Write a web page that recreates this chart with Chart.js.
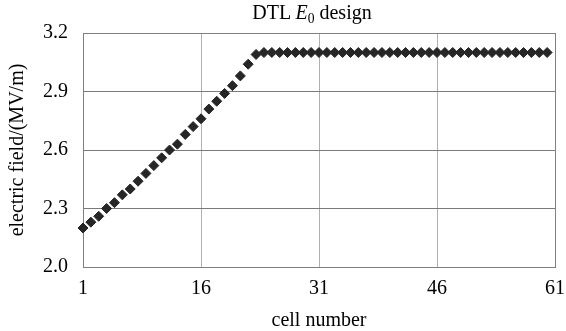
<!DOCTYPE html>
<html>
<head>
<meta charset="utf-8">
<script src="https://cdn.jsdelivr.net/npm/chart.js@4/dist/chart.umd.min.js"></script>
<style>
  html, body { margin: 0; padding: 0; background: #fff; overflow: hidden; }
  #wrap { position: relative; width: 566px; height: 331px; }
  #title {
    position: absolute; top: 2px; left: 312px; transform: translateX(-50%);
    white-space: nowrap; font-family: "Liberation Serif", serif; font-size: 20px;
    line-height: 20px; color: #000;
  }
  #title sub { font-size: 0.68em; vertical-align: -0.28em; line-height: 0; }
  canvas { display: block; }
</style>
</head>
<body>
<div id="wrap">
  <canvas id="c" width="566" height="331"></canvas>
  <div id="title">DTL <i>E</i><sub>0</sub> design</div>
</div>
<script>
const cells = [1,2,3,4,5,6,7,8,9,10,11,12,13,14,15,16,17,18,19,20,
  21,22,23,24,25,26,27,28,29,30,31,32,33,34,35,36,37,38,39,40,
  41,42,43,44,45,46,47,48,49,50,51,52,53,54,55,56,57,58,59,60];
const fieldValues = [2.20,2.23,2.26,2.30,2.33,2.37,2.40,2.44,2.48,2.52,
  2.56,2.60,2.63,2.68,2.72,2.76,2.81,2.85,2.89,2.93,
  2.98,3.04,3.09,3.10,3.10,3.10,3.10,3.10,3.10,3.10,
  3.10,3.10,3.10,3.10,3.10,3.10,3.10,3.10,3.10,3.10,
  3.10,3.10,3.10,3.10,3.10,3.10,3.10,3.10,3.10,3.10,
  3.10,3.10,3.10,3.10,3.10,3.10,3.10,3.10,3.10,3.10];
const xTicks = [1,16,31,46,61];
const yTicks = [2.0,2.3,2.6,2.9,3.2];
const xLabel = 'cell number';
const yLabel = 'electric field/(MV/m)';

const FONT = "'Liberation Serif', 'Times New Roman', serif";

const boxPlugin = {
  id: 'box',
  beforeDatasetsDraw(chart) {
    const {ctx, chartArea: a} = chart;
    ctx.save();
    ctx.strokeStyle = '#808080';
    ctx.lineWidth = 1;
    const l = Math.round(a.left) + 0.5, t = Math.round(a.top) + 0.5;
    const r = Math.round(a.right) + 0.5, b = Math.round(a.bottom) + 0.5;
    ctx.strokeRect(l, t, r - l, b - t);
    ctx.restore();
  }
};

new Chart(document.getElementById('c'), {
  type: 'scatter',
  data: {
    datasets: [{
      data: cells.map((c, i) => ({x: c, y: fieldValues[i]})),
      showLine: false,
      pointStyle: 'rectRot',
      pointRadius: 5,
      pointHoverRadius: 5,
      pointBackgroundColor: '#262626',
      pointBorderColor: '#262626',
      pointBorderWidth: 1,
      clip: false
    }]
  },
  options: {
    responsive: false,
    animation: false,
    events: [],
    layout: { padding: { top: 33, right: 11, left: 0, bottom: 0 } },
    plugins: { legend: { display: false }, tooltip: { enabled: false }, title: { display: false } },
    scales: {
      x: {
        type: 'linear', min: 1, max: 61,
        afterBuildTicks: s => { s.ticks = xTicks.map(v => ({value: v})); },
        afterFit: s => { s.height = 64; s.paddingRight = 0; s.paddingLeft = 0; },
        grid: { color: '#b0b0b0', lineWidth: 1, drawTicks: false },
        border: { display: false },
        ticks: { color: '#000', font: { family: FONT, size: 20 }, padding: 10, maxRotation: 0, autoSkip: false,
                 callback: v => String(v) },
        title: { display: true, text: xLabel, color: '#000', font: { family: FONT, size: 20, lineHeight: 1.0 },
                 padding: { top: 0, bottom: 0 } }
      },
      y: {
        type: 'linear', min: 2.0, max: 3.2,
        afterBuildTicks: s => { s.ticks = yTicks.map(v => ({value: v})); },
        afterFit: s => { s.width = 83; s.paddingTop = 0; s.paddingBottom = 0; },
        grid: { color: '#7a7a7a', lineWidth: 1, drawTicks: false },
        border: { display: false },
        ticks: { color: '#000', font: { family: FONT, size: 20 }, padding: 15, autoSkip: false,
                 callback: v => Number(v).toFixed(1) },
        title: { display: true, text: yLabel, color: '#000', font: { family: FONT, size: 20 },
                 padding: { top: 6, bottom: 0 } }
      }
    }
  },
  plugins: [boxPlugin]
});
</script>
</body>
</html>
